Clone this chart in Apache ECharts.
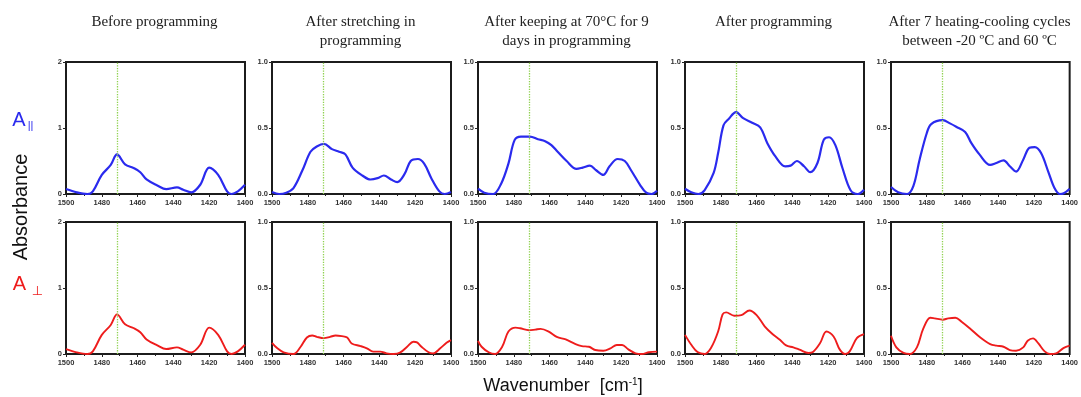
<!DOCTYPE html>
<html>
<head>
<meta charset="utf-8">
<script src="https://cdn.jsdelivr.net/npm/echarts@6/dist/echarts.min.js"></script>
<style>
  html, body { margin: 0; padding: 0; background: #fff; }
  #chart { width: 1081px; height: 397px; }
</style>
</head>
<body>
<div id="chart"></div>
<script>
// Panel titles (one per programming stage)
const stageTitles = [
  'Before programming',
  'After stretching in\nprogramming',
  'After keeping at 70°C for 9\ndays in programming',
  'After programming',
  'After 7 heating-cooling cycles\nbetween -20 ºC and 60 ºC'
];

// Wavenumber axis (cm-1)
const wnMin = 1400;
const wnMax = 1500;
const wnStep = 20;

// Absorbance axis range per stage
const absMax = [2, 1, 1, 1, 1];
const absStep = [1, 0.5, 0.5, 0.5, 0.5];

// Reference band position (dotted marker)
const markerWavenumber = 1471.5;

// Spectra: [wavenumber, absorbance], parallel polarisation
const beforePar = [[1500,0.075],[1494,0.025],[1488,0.0],[1485,0.04],[1480,0.29],[1475,0.44],[1471.5,0.60],[1467,0.45],[1462,0.39],[1458.5,0.33],[1455,0.22],[1449,0.13],[1444,0.075],[1438,0.10],[1434.5,0.065],[1430,0.025],[1425,0.14],[1420,0.40],[1415,0.29],[1410,0.04],[1407.5,0.0],[1404,0.04],[1400,0.14]];
const stretchPar = [[1500,0.015],[1496,0.0],[1492,0.01],[1488,0.045],[1483,0.18],[1478.5,0.32],[1475,0.36],[1471,0.38],[1466.5,0.34],[1462.5,0.32],[1459,0.30],[1455,0.20],[1449.5,0.14],[1445,0.11],[1441,0.12],[1437.5,0.14],[1433.5,0.11],[1430,0.09],[1426,0.15],[1422.5,0.25],[1418.5,0.265],[1415,0.23],[1411,0.12],[1406.5,0.02],[1403.5,0.0],[1400,0.015]];
const keepPar = [[1500,0.04],[1496.5,0.01],[1491.5,0.0],[1487,0.08],[1483,0.23],[1479.5,0.41],[1476,0.435],[1471,0.435],[1466.5,0.415],[1462.5,0.40],[1459,0.37],[1455.5,0.32],[1450.5,0.25],[1445,0.19],[1441.5,0.20],[1437.5,0.215],[1434,0.18],[1430,0.145],[1426.5,0.21],[1422,0.265],[1418,0.25],[1414.5,0.18],[1409.5,0.07],[1406,0.01],[1403,0.0],[1400,0.025]];
const progPar = [[1500,0.04],[1496.5,0.013],[1492.5,0.0],[1489,0.03],[1484,0.16],[1481.5,0.31],[1478.5,0.52],[1475.5,0.57],[1471.5,0.62],[1467.5,0.575],[1462.5,0.54],[1458,0.505],[1454,0.385],[1449.5,0.285],[1444,0.21],[1441,0.215],[1437.5,0.25],[1433.5,0.21],[1430,0.165],[1426,0.235],[1422.5,0.41],[1419.5,0.43],[1416,0.37],[1412,0.195],[1407.5,0.028],[1403.5,0.0],[1400,0.033]];
const cyclePar = [[1500,0.053],[1496,0.013],[1491,0.0],[1487.5,0.06],[1484,0.26],[1480,0.46],[1477.5,0.53],[1471,0.56],[1467,0.535],[1463.5,0.51],[1458.5,0.47],[1455,0.385],[1450.5,0.30],[1444.5,0.22],[1441,0.235],[1437,0.255],[1433.5,0.21],[1430,0.17],[1426,0.26],[1422.5,0.35],[1419.5,0.355],[1416,0.31],[1412,0.17],[1408.5,0.045],[1405.5,0.0],[1403,0.008],[1400,0.04]];

// Spectra: [wavenumber, absorbance], perpendicular polarisation
const beforePerp = [[1500,0.075],[1494,0.025],[1488,0.0],[1485,0.04],[1480,0.29],[1475,0.44],[1471.5,0.60],[1467,0.45],[1462,0.39],[1458.5,0.33],[1455,0.22],[1449,0.13],[1444,0.075],[1438,0.10],[1434.5,0.065],[1430,0.025],[1425,0.14],[1420,0.40],[1415,0.29],[1410,0.04],[1407.5,0.0],[1404,0.04],[1400,0.14]];
const stretchPerp = [[1500,0.085],[1497,0.043],[1493.5,0.013],[1488,0.0],[1484,0.055],[1480.5,0.125],[1477.5,0.14],[1475,0.13],[1471,0.12],[1467.5,0.13],[1464.5,0.14],[1461,0.135],[1458,0.125],[1455.5,0.08],[1450.5,0.06],[1447,0.043],[1443.5,0.018],[1439.5,0.018],[1436,0.005],[1432,0.0],[1428.5,0.01],[1424.5,0.055],[1421,0.093],[1419,0.088],[1416.5,0.055],[1412.5,0.013],[1410,0.005],[1406,0.043],[1402.5,0.085],[1400,0.105]];
const keepPerp = [[1500,0.10],[1498,0.055],[1494,0.013],[1490.5,0.0],[1486.5,0.055],[1483,0.17],[1479,0.20],[1476.5,0.195],[1471.5,0.18],[1468,0.185],[1465,0.19],[1460.5,0.17],[1456,0.13],[1451,0.11],[1445.5,0.075],[1442,0.06],[1438,0.055],[1434.5,0.03],[1430,0.025],[1426,0.043],[1422.5,0.068],[1419.5,0.068],[1416,0.035],[1412,0.005],[1408.5,0.0],[1404.5,0.013],[1400,0.018]];
const progPerp = [[1500,0.145],[1496.5,0.07],[1493,0.015],[1489,0.0],[1485.5,0.045],[1481.5,0.17],[1479,0.30],[1477,0.315],[1472.5,0.29],[1468.5,0.295],[1464,0.33],[1460,0.295],[1455.5,0.21],[1451,0.15],[1447,0.108],[1443.5,0.065],[1439.5,0.05],[1436,0.033],[1431,0.008],[1428.5,0.015],[1424.5,0.083],[1421,0.17],[1417,0.133],[1413.5,0.033],[1410.5,0.0],[1408,0.02],[1404,0.12],[1400,0.15]];
const cyclePerp = [[1500,0.138],[1497,0.05],[1493,0.008],[1489.5,0.0],[1485.5,0.05],[1482,0.19],[1478,0.275],[1475.5,0.27],[1471,0.26],[1468,0.27],[1464,0.275],[1460.5,0.245],[1455.5,0.19],[1450,0.125],[1444.5,0.075],[1441,0.063],[1437,0.055],[1433.5,0.03],[1430,0.025],[1426,0.05],[1423.5,0.10],[1420.5,0.118],[1417.5,0.08],[1414,0.02],[1411,0.0],[1407.5,0.005],[1403.5,0.045],[1400,0.063]];

const parSpectra = [beforePar, stretchPar, keepPar, progPar, cyclePar];
const perpSpectra = [beforePerp, stretchPerp, keepPerp, progPerp, cyclePerp];

// Layout of the 2 x 5 panel grid
const colLeft = [66, 272, 478, 685, 891];
const rowTop = [62, 222];
const panelW = 179;
const panelH = 132;
const rowColor = ['#2a2aee', '#ee1c1c'];
const sansFont = '"Liberation Sans", Arial, sans-serif';

const grids = [], xAxes = [], yAxes = [], series = [], graphics = [];

for (let r = 0; r < 2; r++) {
  for (let c = 0; c < 5; c++) {
    const k = r * 5 + c;
    grids.push({
      left: colLeft[c], top: rowTop[r], width: panelW, height: panelH,
      show: true, borderColor: '#1c1c1c', borderWidth: 2, backgroundColor: 'transparent'
    });
    xAxes.push({
      type: 'value', gridIndex: k, min: wnMin, max: wnMax, interval: wnStep, inverse: true,
      axisLine: { show: false },
      axisTick: { show: true, length: 3, lineStyle: { color: '#222', width: 1 } },
      minorTick: { show: true, splitNumber: 2, length: 2, lineStyle: { color: '#222', width: 1 } },
      splitLine: { show: false },
      axisLabel: {
        fontSize: 7.5, fontWeight: 'bold', color: '#333', margin: 5, fontFamily: sansFont,
        formatter: v => String(Math.round(v))
      }
    });
    yAxes.push({
      type: 'value', gridIndex: k, min: 0, max: absMax[c], interval: absStep[c],
      axisLine: { show: false },
      axisTick: { show: true, length: 3, lineStyle: { color: '#222', width: 1 } },
      splitLine: { show: false },
      axisLabel: {
        fontSize: 7.5, fontWeight: 'bold', color: '#333', margin: 4, fontFamily: sansFont,
        formatter: v => absStep[c] < 1 ? v.toFixed(1) : String(v)
      }
    });
    series.push({
      type: 'line', xAxisIndex: k, yAxisIndex: k,
      data: (r === 0 ? parSpectra : perpSpectra)[c],
      smooth: 0.35, symbol: 'none', clip: false,
      lineStyle: { color: rowColor[r], width: r === 0 ? 2.2 : 1.9 },
      markLine: {
        silent: true, symbol: ['none', 'none'], animation: false,
        label: { show: false },
        lineStyle: { color: '#8fd14f', type: 'dotted', width: 1.3 },
        data: [{ xAxis: markerWavenumber }]
      },
      z: 3
    });
  }
}

// Stage titles above each column
stageTitles.forEach((t, c) => {
  graphics.push({
    type: 'text', x: colLeft[c] + panelW / 2 - 1, y: 12.5,
    style: {
      text: t, fill: '#222', fontSize: 15, lineHeight: 19,
      fontFamily: '"Liberation Serif", "Times New Roman", serif',
      align: 'center', verticalAlign: 'top'
    }
  });
});

// Polarisation labels
graphics.push(
  { type: 'text', x: 19, y: 120, style: { text: 'A', fill: rowColor[0], fontSize: 20, fontFamily: sansFont, align: 'center', verticalAlign: 'middle' } },
  { type: 'text', x: 30.5, y: 126, style: { text: '||', fill: rowColor[0], fontSize: 11, fontFamily: sansFont, align: 'center', verticalAlign: 'middle' } },
  { type: 'text', x: 19.5, y: 284, style: { text: 'A', fill: rowColor[1], fontSize: 20, fontFamily: sansFont, align: 'center', verticalAlign: 'middle' } },
  { type: 'text', x: 37.5, y: 292, style: { text: '⊥', fill: rowColor[1], fontSize: 13, fontFamily: '"DejaVu Sans", sans-serif', align: 'center', verticalAlign: 'middle' } }
);

// Shared axis titles
graphics.push(
  {
    type: 'text', x: 21, y: 207, rotation: Math.PI / 2,
    style: { text: 'Absorbance', fill: '#111', fontSize: 20, fontFamily: sansFont, align: 'center', verticalAlign: 'middle' }
  },
  {
    type: 'text', x: 563, y: 386,
    style: {
      text: '{n|Wavenumber  [cm}{s|-1}{n|]}',
      align: 'center', verticalAlign: 'middle',
      rich: {
        n: { fontSize: 18, fontFamily: sansFont, fill: '#111' },
        s: { fontSize: 10, fontFamily: sansFont, fill: '#111', verticalAlign: 'top' }
      }
    }
  }
);

const chart = echarts.init(document.getElementById('chart'), null, { renderer: 'canvas' });
chart.setOption({
  animation: false,
  backgroundColor: '#fff',
  grid: grids,
  xAxis: xAxes,
  yAxis: yAxes,
  series: series,
  graphic: graphics
});
</script>
</body>
</html>
